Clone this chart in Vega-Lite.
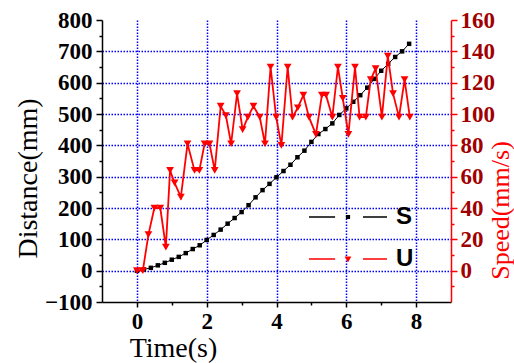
{
  "$schema": "https://vega.github.io/schema/vega-lite/v6.json",
  "width": 349,
  "height": 282,
  "autosize": "none",
  "padding": {"left": 102, "top": 20, "right": 63, "bottom": 61},
  "background": "white",
  "config": {"view": {"stroke": null}},
  "datasets": {
    "S": [
      {"time": 0, "distance": 0}, {"time": 0.2, "distance": 4}, {"time": 0.4, "distance": 9},
      {"time": 0.6, "distance": 17}, {"time": 0.8, "distance": 25}, {"time": 1.0, "distance": 35},
      {"time": 1.2, "distance": 44}, {"time": 1.4, "distance": 56}, {"time": 1.6, "distance": 69},
      {"time": 1.8, "distance": 81}, {"time": 2.0, "distance": 98}, {"time": 2.2, "distance": 114},
      {"time": 2.4, "distance": 131}, {"time": 2.6, "distance": 150}, {"time": 2.8, "distance": 168},
      {"time": 3.0, "distance": 187}, {"time": 3.2, "distance": 209}, {"time": 3.4, "distance": 234},
      {"time": 3.6, "distance": 257}, {"time": 3.8, "distance": 277}, {"time": 4.0, "distance": 298},
      {"time": 4.2, "distance": 318}, {"time": 4.4, "distance": 338}, {"time": 4.6, "distance": 362},
      {"time": 4.8, "distance": 383}, {"time": 5.0, "distance": 411}, {"time": 5.2, "distance": 436},
      {"time": 5.4, "distance": 452}, {"time": 5.6, "distance": 470}, {"time": 5.8, "distance": 497},
      {"time": 6.0, "distance": 518}, {"time": 6.2, "distance": 539}, {"time": 6.4, "distance": 560},
      {"time": 6.6, "distance": 584}, {"time": 6.8, "distance": 612}, {"time": 7.0, "distance": 638},
      {"time": 7.2, "distance": 660}, {"time": 7.4, "distance": 682}, {"time": 7.6, "distance": 700},
      {"time": 7.8, "distance": 724}
    ],
    "U": [
      {"time": 0, "speed": 0}, {"time": 0.17, "speed": 0}, {"time": 0.33, "speed": 23},
      {"time": 0.5, "speed": 40}, {"time": 0.67, "speed": 40}, {"time": 0.83, "speed": 15},
      {"time": 0.95, "speed": 64}, {"time": 1.08, "speed": 56}, {"time": 1.26, "speed": 47},
      {"time": 1.45, "speed": 81}, {"time": 1.65, "speed": 64}, {"time": 1.79, "speed": 64},
      {"time": 1.94, "speed": 81}, {"time": 2.08, "speed": 81}, {"time": 2.23, "speed": 64},
      {"time": 2.4, "speed": 105}, {"time": 2.55, "speed": 99}, {"time": 2.7, "speed": 81},
      {"time": 2.87, "speed": 113}, {"time": 3.03, "speed": 90}, {"time": 3.18, "speed": 98},
      {"time": 3.34, "speed": 105}, {"time": 3.52, "speed": 98}, {"time": 3.67, "speed": 81},
      {"time": 3.83, "speed": 130}, {"time": 3.99, "speed": 98}, {"time": 4.14, "speed": 80},
      {"time": 4.32, "speed": 130}, {"time": 4.46, "speed": 98}, {"time": 4.61, "speed": 104},
      {"time": 4.77, "speed": 112}, {"time": 4.93, "speed": 98}, {"time": 5.13, "speed": 87},
      {"time": 5.3, "speed": 112}, {"time": 5.42, "speed": 112}, {"time": 5.6, "speed": 98},
      {"time": 5.76, "speed": 130}, {"time": 5.9, "speed": 110}, {"time": 6.06, "speed": 87},
      {"time": 6.25, "speed": 130}, {"time": 6.38, "speed": 98}, {"time": 6.56, "speed": 98},
      {"time": 6.7, "speed": 122}, {"time": 6.84, "speed": 129}, {"time": 7.02, "speed": 98},
      {"time": 7.19, "speed": 137}, {"time": 7.34, "speed": 113}, {"time": 7.51, "speed": 98},
      {"time": 7.67, "speed": 122}, {"time": 7.82, "speed": 98}
    ]
  },
  "layer": [
    {
      "data": {"name": "S"},
      "encoding": {
        "x": {
          "field": "time", "type": "quantitative",
          "scale": {"domain": [-1, 9], "nice": false, "zero": false},
          "axis": {
            "title": "Time(s)",
            "values": [0, 1, 2, 3, 4, 5, 6, 7, 8],
            "grid": true, "gridColor": "#0000ff", "gridDash": [1.5, 1.5], "gridWidth": 1.5,
            "gridOpacity": {"condition": {"test": "datum.value % 2 === 0", "value": 1}, "value": 0},
            "domainColor": "black", "domainWidth": 1.5,
            "tickColor": "black", "tickWidth": 1.5,
            "tickSize": {"condition": {"test": "datum.value % 2 === 0", "value": 5}, "value": 3},
            "labelExpr": "datum.value % 2 === 0 ? datum.label : ''",
            "labelFont": "Liberation Serif", "labelFontWeight": "bold", "labelFontSize": 23,
            "labelColor": "black", "labelPadding": 3, "labelOverlap": false, "labelFlush": false,
            "titleFont": "Liberation Serif", "titleFontWeight": "normal", "titleFontSize": 28,
            "titleColor": "black", "titleX": 71, "titleY": 46, "titleBaseline": "middle", "titleAlign": "center"
          }
        },
        "y": {
          "field": "distance", "type": "quantitative",
          "scale": {"domain": [-100, 800], "nice": false, "zero": false},
          "axis": {
            "orient": "left",
            "title": "Distance(mm)",
            "values": [-100, -50, 0, 50, 100, 150, 200, 250, 300, 350, 400, 450, 500, 550, 600, 650, 700, 750, 800],
            "grid": true, "gridColor": "#0000ff", "gridDash": [1.5, 1.5], "gridWidth": 1.5,
            "gridOpacity": {"condition": {"test": "datum.value % 100 === 0 && datum.value >= 0 && datum.value <= 700", "value": 1}, "value": 0},
            "domainColor": "black", "domainWidth": 1.5,
            "tickColor": "black", "tickWidth": 1.5,
            "tickSize": {"condition": {"test": "datum.value % 100 === 0", "value": 6}, "value": 3},
            "labelExpr": "datum.value % 100 === 0 ? datum.label : ''",
            "labelFont": "Liberation Serif", "labelFontWeight": "bold", "labelFontSize": 23,
            "labelColor": "black", "labelPadding": 4, "labelOverlap": false, "labelFlush": false,
            "titleFont": "Liberation Serif", "titleFontWeight": "normal", "titleFontSize": 28,
            "titleColor": "black", "titleAngle": 270, "titleX": -74, "titleY": 158,
            "titleBaseline": "middle", "titleAlign": "center"
          }
        }
      },
      "layer": [
        {
          "mark": {"type": "line", "strokeWidth": 1},
          "encoding": {
            "color": {
              "datum": "S",
              "scale": {"domain": ["S", "U"], "range": ["black", "#ff0000"]},
              "legend": {
                "orient": "none", "legendX": 234, "legendY": 185, "title": null,
                "symbolSize": 36, "padding": 0, "rowPadding": 18,
                "labelFont": "Liberation Sans", "labelFontWeight": "bold", "labelFontSize": 24,
                "labelColor": "black", "labelOffset": 36,
                "encode": {
                  "symbols": {
                    "update": {
                      "shape": {"signal": "datum.value == 'S' ? 'M-13,-0.25H-4.3V0.25H-13Z M-0.7,-0.7H0.7V0.7H-0.7Z M5,-0.25H13V0.25H5Z' : 'M-13,-0.25H-4.3V0.25H-13Z M-1.1,-0.8H1.1L0,1.2Z M5,-0.25H13V0.25H5Z'"},
                      "fill": {"signal": "datum.value == 'S' ? '#111111' : '#ff0000'"},
                      "stroke": {"value": "transparent"},
                      "strokeWidth": {"value": 0},
                      "opacity": {"value": 1},
                      "fillOpacity": {"value": 1}
                    }
                  }
                }
              }
            }
          }
        },
        {
          "mark": {"type": "point", "shape": "square", "filled": true, "size": 20, "opacity": 1},
          "encoding": {"color": {"datum": "S"}}
        }
      ]
    },
    {
      "data": {"name": "U"},
      "encoding": {
        "x": {"field": "time", "type": "quantitative"},
        "y": {
          "field": "speed", "type": "quantitative",
          "scale": {"domain": [-20, 160], "nice": false, "zero": false},
          "axis": {
            "orient": "right",
            "title": "Speed(mm/s)",
            "values": [-10, 0, 10, 20, 30, 40, 50, 60, 70, 80, 90, 100, 110, 120, 130, 140, 150, 160],
            "grid": false,
            "domainColor": "#ff0000", "domainWidth": 1.5,
            "tickColor": "#ff0000", "tickWidth": 1.5,
            "tickSize": {"condition": {"test": "datum.value % 20 === 0", "value": 6}, "value": 3},
            "labelExpr": "datum.value % 20 === 0 && datum.value >= 0 ? datum.label : ''",
            "labelFont": "Liberation Serif", "labelFontWeight": "bold", "labelFontSize": 23,
            "labelColor": "#a00000", "labelPadding": 3, "labelOverlap": false, "labelFlush": false,
            "titleFont": "Liberation Serif", "titleFontWeight": "normal", "titleFontSize": 26,
            "titleColor": "#ff0000", "titleAngle": 270, "titleX": 49, "titleY": 190,
            "titleBaseline": "middle", "titleAlign": "center"
          }
        }
      },
      "layer": [
        {
          "mark": {"type": "line", "strokeWidth": 1.8},
          "encoding": {"color": {"datum": "U"}}
        },
        {
          "mark": {"type": "point", "shape": "triangle-down", "filled": true, "size": 60, "opacity": 1},
          "encoding": {"color": {"datum": "U"}}
        }
      ]
    }
  ],
  "resolve": {"scale": {"y": "independent"}}
}
